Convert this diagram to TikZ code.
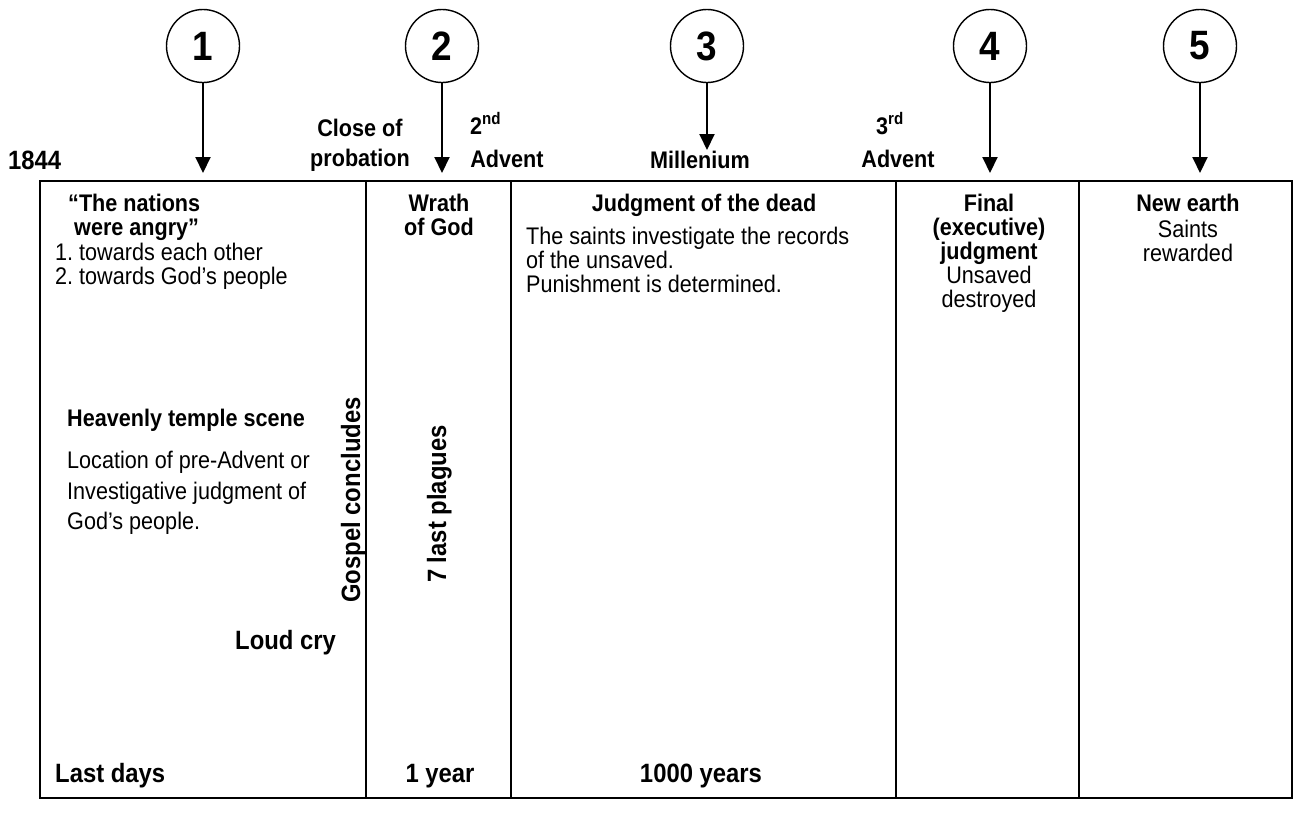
\documentclass[tikz,border=0pt]{standalone}
\usepackage{fontspec}
\setmainfont{Liberation Sans}[FakeStretch=0.9]
\usetikzlibrary{arrows.meta}
\newcommand\myfs{\fontsize{24}{26}\selectfont\frenchspacing}
\newcommand\mybig{\fontsize{26.5}{29}\selectfont\frenchspacing}
\newcommand\mynum{\fontsize{41}{45}\selectfont}
\begin{document}
\begin{tikzpicture}[x=1pt,y=-1pt,
  txt/.style={inner sep=0pt,font=\myfs},
  bt/.style={inner sep=0pt,font=\myfs\bfseries},
  bbig/.style={inner sep=0pt,font=\mybig\bfseries},
  num/.style={circle,draw,line width=1.4pt,minimum size=73pt,inner sep=0pt,font=\mynum\bfseries},
  arr/.style={line width=2pt,-{Triangle[width=15pt,length=16pt]}},
  frame/.style={line width=2.5pt}]
\useasboundingbox (0,0) rectangle (1302,812);

% frame and dividers
\draw[frame] (40,181) rectangle (1292,798);
\draw[frame] (366,181) -- (366,798);
\draw[frame] (511,181) -- (511,798);
\draw[frame] (896,181) -- (896,798);
\draw[frame] (1079,181) -- (1079,798);

% circles and arrows
\node[num] (n1) at (203,46) {1};
\node[num] (n2) at (442,46) {2};
\node[num] (n3) at (707,46) {3};
\node[num] (n4) at (990,46) {4};
\node[num] (n5) at (1200,46) {5};
\coordinate (t1) at (203,173);
\coordinate (t2) at (442,173);
\coordinate (t3) at (707,150);
\coordinate (t4) at (990,173);
\coordinate (t5) at (1200,173);
\draw[arr] (n1.south) -- (t1);
\draw[arr] (n2.south) -- (t2);
\draw[arr] (n3.south) -- (t3);
\draw[arr] (n4.south) -- (t4);
\draw[arr] (n5.south) -- (t5);

% top labels
\node[bbig,anchor=base west] (y1844) at (8,169) {1844};
\node[bt,anchor=base] (close) at (360,136) {Close of};
\node[bt,anchor=base] (prob) at (360,166) {probation};
\node[bt,anchor=base west] (sec) at (470,134) {2\textsuperscript{nd}};
\node[bt,anchor=base] (adv2) at (507,167) {Advent};
\node[bt,anchor=base] (mill) at (700,168) {Millenium};
\node[bt,anchor=base west] (third) at (876,134) {3\textsuperscript{rd}};
\node[bt,anchor=base] (adv3) at (898,167) {Advent};

% column 1
\node[bt,anchor=base west] (nat1) at (68,211) {“The nations};
\node[bt,anchor=base west] (nat2) at (74,235) {were angry”};
\node[txt,anchor=base west] (tw1) at (55,260) {1. towards each other};
\node[txt,anchor=base west] (tw2) at (55,284) {2. towards God’s people};
\node[bt,anchor=base west] (heav) at (67,426) {Heavenly temple scene};
\node[txt,anchor=base west] (loc1) at (67,468) {Location of pre-Advent or};
\node[txt,anchor=base west] (loc2) at (67,499) {Investigative judgment of};
\node[txt,anchor=base west] (loc3) at (67,529) {God’s people.};
\node[bbig,anchor=base west] (loud) at (235,649) {Loud cry};
\node[bbig,anchor=base,rotate=90] (gosp) at (360,500) {Gospel concludes};
\node[bbig,anchor=base west] (last) at (55,782) {Last days};

% column 2
\node[bt,anchor=base] (wr1) at (439,211) {Wrath};
\node[bt,anchor=base] (wr2) at (439,235) {of God};
\node[bbig,anchor=base,rotate=90] (plag) at (446,504) {7 last plagues};
\node[bbig,anchor=base] (yr1) at (440,782) {1 year};

% column 3
\node[bt,anchor=base] (jd) at (704,211) {Judgment of the dead};
\node[txt,anchor=base west] (s1) at (526,244) {The saints investigate the records};
\node[txt,anchor=base west] (s2) at (526,268) {of the unsaved.};
\node[txt,anchor=base west] (s3) at (526,292) {Punishment is determined.};
\node[bbig,anchor=base] (yr1000) at (701,782) {1000 years};

% column 4
\node[bt,anchor=base] (f1) at (989,211) {Final};
\node[bt,anchor=base] (f2) at (989,235) {(executive)};
\node[bt,anchor=base] (f3) at (989,259) {judgment};
\node[txt,anchor=base] (f4) at (989,283) {Unsaved};
\node[txt,anchor=base] (f5) at (989,307) {destroyed};

% column 5
\node[bt,anchor=base] (ne1) at (1188,211) {New earth};
\node[txt,anchor=base] (ne2) at (1188,237) {Saints};
\node[txt,anchor=base] (ne3) at (1188,261) {rewarded};
\end{tikzpicture}
\end{document}
